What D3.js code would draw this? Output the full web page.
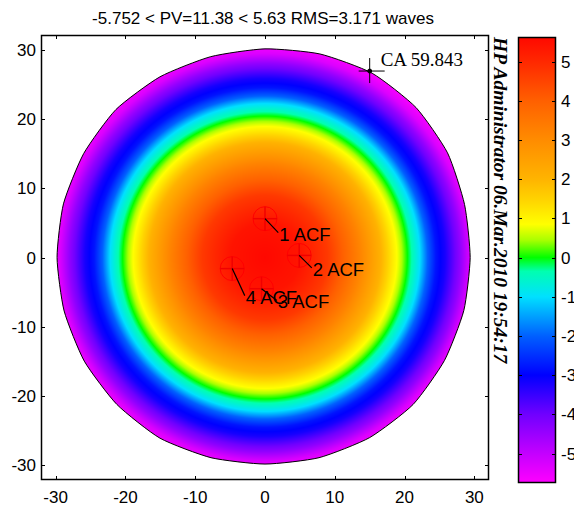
<!DOCTYPE html>
<html><head><meta charset="utf-8">
<script src="https://cdn.jsdelivr.net/npm/d3@7"></script>
<style>
body{margin:0;background:#fff}
svg{display:block}
</style>
</head><body>
<svg id="chart" width="574" height="506"></svg>
<script>
// ---- data ----
const titleText = "-5.752 < PV=11.38 < 5.63 RMS=3.171 waves";
const stampText = "HP Administrator  06.Mar.2010 19:54:17";
const axisTicks = [-30, -20, -10, 0, 10, 20, 30];
const colorTicks = [-5, -4, -3, -2, -1, 0, 1, 2, 3, 4, 5];
const valueMin = -5.752;
const valueMax = 5.63;

// surface height (waves) versus radius (mm) across the aperture
const profileRadius = [0, 5, 9, 13.6, 16.5, 18.2, 19.2, 20.4, 21.3, 22.2, 23.3, 24.5, 25.8, 28.0, 29.4, 30.8];
const profileValue  = [5.63, 5.4, 4.7, 3.2, 2.1, 1.2, 0.7, 0.0, -0.5, -1.0, -2.0, -2.8, -3.2, -4.4, -5.3, -5.752];

// colormap stops (waves -> colour)
const cmapValue = [-5.752, -5, -4, -3, -2, -1, -0.35, 0, 0.45, 0.85, 1.5, 2, 3, 4, 5, 5.63];
const cmapColor = ["#ff00ff", "#c400ff", "#7000ff", "#0000ff", "#0060ff", "#00e0ff", "#00ffb0", "#00ff00",
                   "#aaff00", "#ffff00", "#ffd200", "#ffb400", "#ff8c00", "#ff6000", "#ff2800", "#ff0800"];

// aperture outline: radius (mm) at each angle (deg)
const edgeAngle  = [0, 15, 30, 45, 60, 75, 90, 105, 120, 135, 150, 165, 180, 195, 210, 225, 240, 255, 270, 285, 300, 315, 330, 345];
const edgeRadius = [29.4, 29.6, 30.2, 30.6, 30.7, 30.4, 30.1, 30.0, 30.1, 30.2, 30.0, 29.9, 29.8, 29.8, 29.9, 30.0, 30.1, 29.9, 29.8, 29.9, 30.0, 30.0, 29.7, 29.5];

// ACF reference points and their label anchors (mm)
const acfName  = ["1 ACF", "2 ACF", "4 ACF", "3 ACF"];
const acfX     = [0.0, 4.9, -4.7, -0.5];
const acfY     = [5.6, 0.3, -1.6, -4.5];
const acfLabX  = [1.9, 6.7, -2.9, 1.7];
const acfLabY  = [3.6, -1.5, -5.5, -6.2];

// clear-aperture marker
const caText = "CA 59.843";
const caX = 15.0, caY = 26.9;

// ---- layout ----
const sans = "'Liberation Sans', Arial, sans-serif";
const serif = "'Liberation Serif', 'Times New Roman', serif";
const svg = d3.select("#chart").style("font-family", sans);
const plot = {left: 41, top: 35, right: 489, bottom: 480};
const bar = {left: 518, top: 37, right: 556, bottom: 483};
const extent = 32.1;

const x = d3.scaleLinear().domain([-extent, extent]).range([plot.left, plot.right]);
const y = d3.scaleLinear().domain([-extent, extent]).range([plot.bottom, plot.top]);
const profile = d3.scaleLinear().domain(profileRadius).range(profileValue).clamp(true);
const color = d3.scaleLinear().domain(cmapValue).range(cmapColor).interpolate(d3.interpolateRgb).clamp(true);

// ---- surface raster ----
const W = plot.right - plot.left, H = plot.bottom - plot.top;
const canvas = document.createElement("canvas");
canvas.width = W; canvas.height = H;
const ctx = canvas.getContext("2d");
const img = ctx.createImageData(W, H);
for (let j = 0; j < H; j++) {
  const py = y.invert(plot.top + j + 0.5);
  for (let i = 0; i < W; i++) {
    const px = x.invert(plot.left + i + 0.5);
    const r = Math.hypot(px, py);
    const c = d3.rgb(color(profile(r)));
    const k = (j * W + i) * 4;
    img.data[k] = c.r; img.data[k + 1] = c.g; img.data[k + 2] = c.b; img.data[k + 3] = 255;
  }
}
ctx.putImageData(img, 0, 0);

const edgePts = edgeAngle.map((a, i) => {
  const t = a * Math.PI / 180;
  return [x(edgeRadius[i] * Math.cos(t)), y(edgeRadius[i] * Math.sin(t))];
});
const edgePath = d3.line().curve(d3.curveCardinalClosed.tension(0.4))(edgePts);

svg.append("clipPath").attr("id", "aperture").append("path").attr("d", edgePath);
svg.append("image")
  .attr("x", plot.left).attr("y", plot.top).attr("width", W).attr("height", H)
  .attr("preserveAspectRatio", "none")
  .attr("href", canvas.toDataURL())
  .attr("clip-path", "url(#aperture)");
svg.append("path").attr("d", edgePath).attr("fill", "none").attr("stroke", "#000").attr("stroke-width", 1);

// ---- axes (box with inward ticks on all sides) ----
const tickLen = 4;
const g = svg.append("g").attr("stroke", "#000").attr("stroke-width", 1);
axisTicks.forEach(t => {
  const xx = Math.round(x(t)) + 0.5, yy = Math.round(y(t)) + 0.5;
  g.append("line").attr("x1", xx).attr("x2", xx).attr("y1", plot.bottom).attr("y2", plot.bottom - tickLen);
  g.append("line").attr("x1", xx).attr("x2", xx).attr("y1", plot.top).attr("y2", plot.top + tickLen);
  g.append("line").attr("y1", yy).attr("y2", yy).attr("x1", plot.left).attr("x2", plot.left + tickLen);
  g.append("line").attr("y1", yy).attr("y2", yy).attr("x1", plot.right).attr("x2", plot.right - tickLen);
});
g.append("rect").attr("x", plot.left + 0.5).attr("y", plot.top + 0.5)
  .attr("width", W - 1).attr("height", H - 1).attr("fill", "none").attr("stroke-width", 1.5);

svg.append("g").selectAll("text").data(axisTicks).join("text")
  .attr("x", d => x(d)).attr("y", plot.bottom + 23)
  .attr("text-anchor", "middle").attr("font-size", 17).text(d => d);
svg.append("g").selectAll("text").data(axisTicks).join("text")
  .attr("x", plot.left - 5).attr("y", d => y(d) + 6)
  .attr("text-anchor", "end").attr("font-size", 17).text(d => d);

// ---- title ----
svg.append("text").attr("x", 263).attr("y", 24).attr("text-anchor", "middle")
  .attr("font-size", 17).text(titleText);

// ---- vertical stamp ----
svg.append("text")
  .attr("transform", `translate(${plot.right + 5},${plot.top + 2}) rotate(90)`)
  .style("font-family", serif)
  .attr("font-weight", "bold").attr("font-style", "italic")
  .attr("font-size", 19.5).text(stampText);

// ---- ACF markers ----
const acf = svg.append("g");
acfName.forEach((name, i) => {
  const cx = x(acfX[i]), cy = y(acfY[i]);
  const R = 12;
  acf.append("circle").attr("cx", cx).attr("cy", cy).attr("r", R)
    .attr("fill", "none").attr("stroke", "#ff0000").attr("stroke-width", 1);
  acf.append("line").attr("x1", cx - R).attr("x2", cx + R).attr("y1", cy).attr("y2", cy)
    .attr("stroke", "#f00000").attr("stroke-width", 1.5);
  acf.append("line").attr("x1", cx).attr("x2", cx).attr("y1", cy - R).attr("y2", cy + R)
    .attr("stroke", "#f00000").attr("stroke-width", 1.5);
});
acfName.forEach((name, i) => {
  const cx = x(acfX[i]), cy = y(acfY[i]);
  const lx = x(acfLabX[i]), ly = y(acfLabY[i]);
  acf.append("line").attr("x1", cx).attr("y1", cy).attr("x2", lx).attr("y2", ly)
    .attr("stroke", "#000").attr("stroke-width", 1.2);
  acf.append("text").attr("x", lx + 1).attr("y", ly + 8).attr("font-size", 18.5).text(name);
});

// ---- clear-aperture marker ----
const cax = x(caX), cay = y(caY);
const ca = svg.append("g").attr("stroke", "#000").attr("stroke-width", 1);
ca.append("line").attr("x1", cax - 11).attr("x2", cax + 15).attr("y1", cay).attr("y2", cay);
ca.append("line").attr("x1", cax).attr("x2", cax).attr("y1", cay - 13).attr("y2", cay + 12);
ca.append("circle").attr("cx", cax).attr("cy", cay).attr("r", 2).attr("fill", "#000");
svg.append("text").attr("x", cax + 11).attr("y", cay - 5)
  .style("font-family", serif)
  .attr("font-size", 19).text(caText);

// ---- colorbar ----
const cb = d3.scaleLinear().domain([valueMin, valueMax]).range([bar.bottom, bar.top]);
const grad = svg.append("defs").append("linearGradient").attr("id", "cbar")
  .attr("x1", 0).attr("x2", 0).attr("y1", 1).attr("y2", 0);
cmapValue.forEach((v, i) => {
  grad.append("stop").attr("offset", (v - valueMin) / (valueMax - valueMin)).attr("stop-color", cmapColor[i]);
});
svg.append("rect").attr("x", bar.left).attr("y", bar.top)
  .attr("width", bar.right - bar.left).attr("height", bar.bottom - bar.top).attr("fill", "url(#cbar)");
const cg = svg.append("g").attr("stroke", "#000").attr("stroke-width", 1);
colorTicks.forEach(t => {
  const yy = Math.round(cb(t)) + 0.5;
  cg.append("line").attr("x1", bar.left).attr("x2", bar.left + 4).attr("y1", yy).attr("y2", yy);
  cg.append("line").attr("x1", bar.right).attr("x2", bar.right - 4).attr("y1", yy).attr("y2", yy);
});
cg.append("rect").attr("x", bar.left + 0.5).attr("y", bar.top + 0.5)
  .attr("width", bar.right - bar.left - 1).attr("height", bar.bottom - bar.top - 1)
  .attr("fill", "none").attr("stroke-width", 1.5);
svg.append("g").selectAll("text").data(colorTicks).join("text")
  .attr("x", bar.right + 5).attr("y", d => cb(d) + 6)
  .attr("font-size", 17).text(d => d);
</script>
</body></html>
